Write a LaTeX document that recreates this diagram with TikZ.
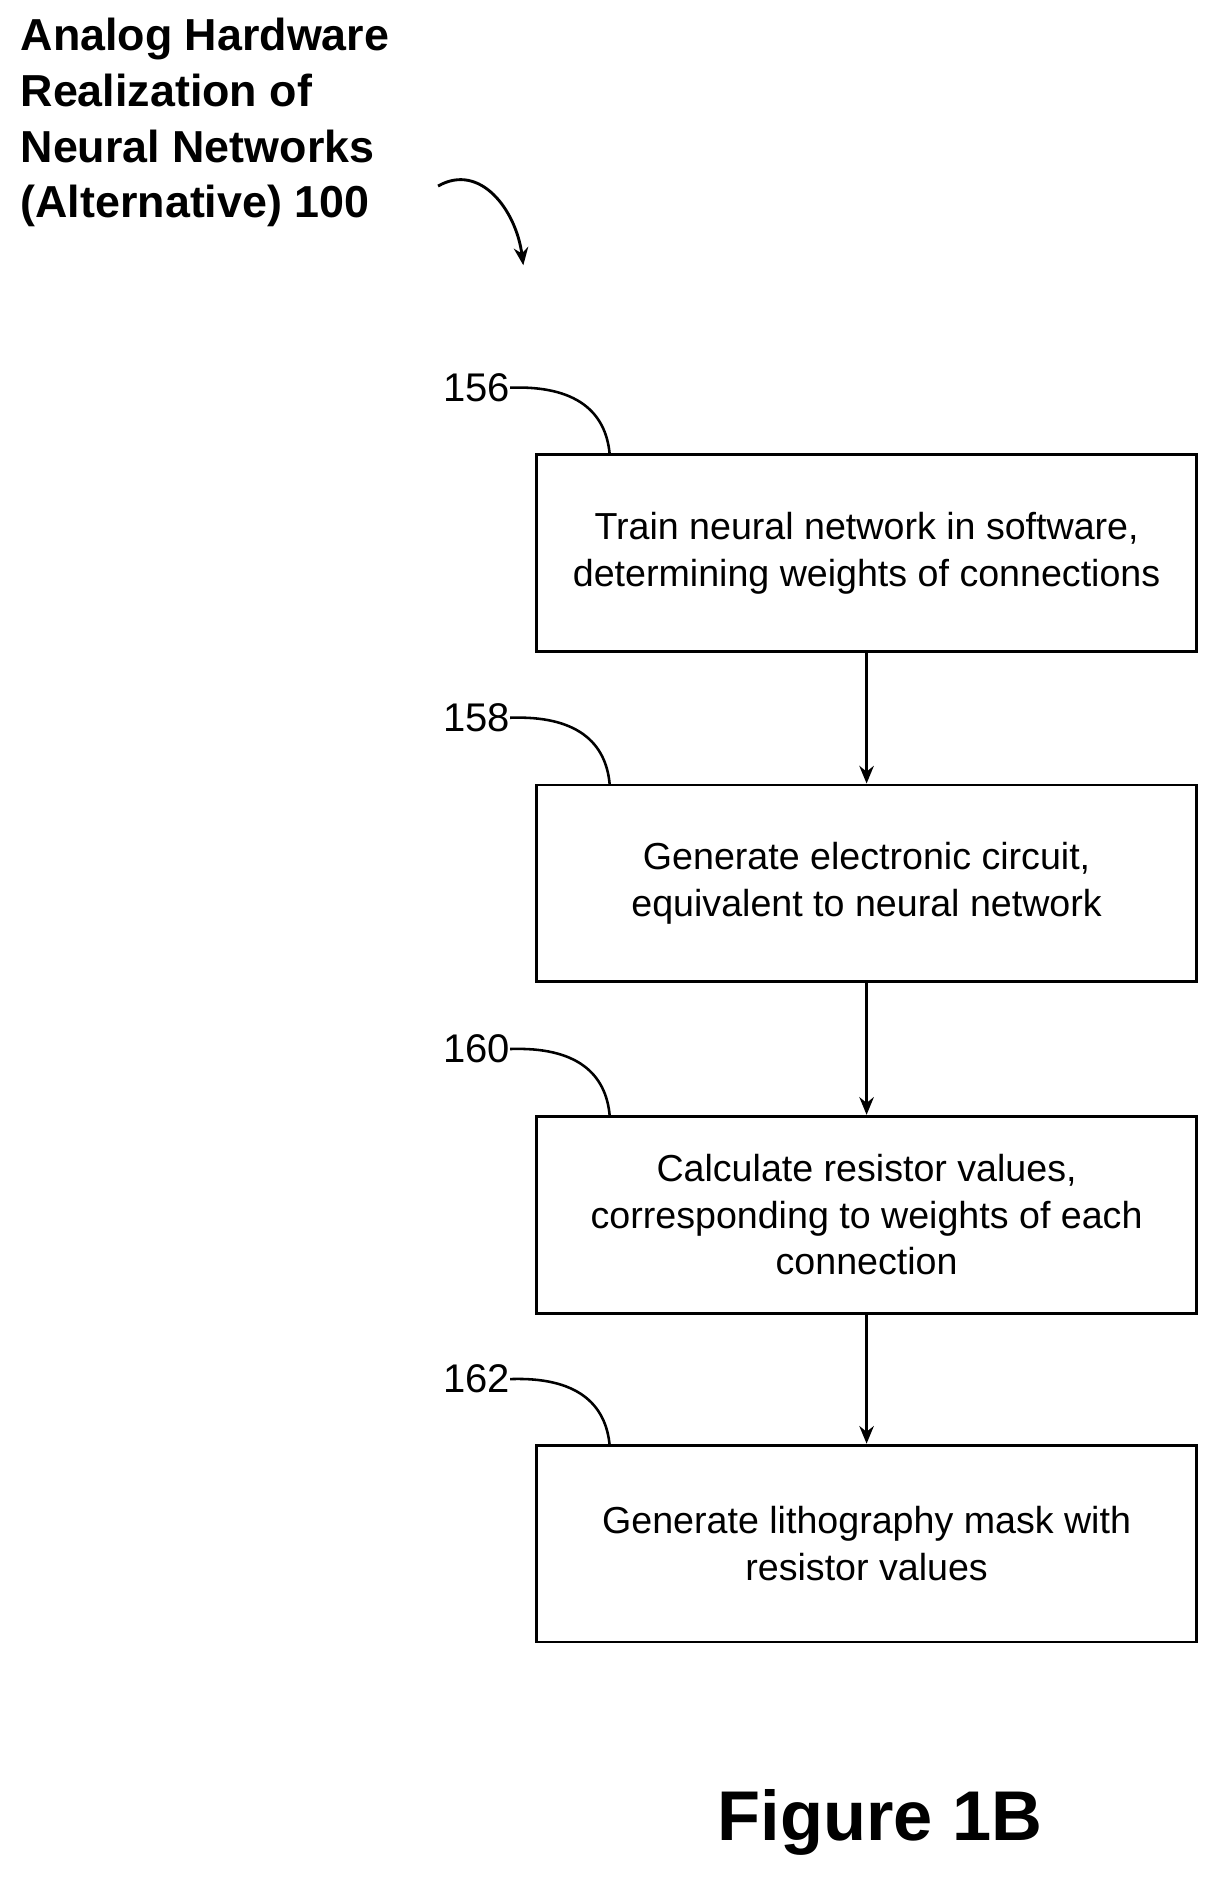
\documentclass[tikz,border=0pt]{standalone}
\usepackage{fontspec}
\usetikzlibrary{arrows.meta}
\setmainfont{Liberation Sans}
\begin{document}
\begin{tikzpicture}[x=0.75pt,y=-0.75pt,
  box/.style={draw,line width=1.8pt,minimum width=550*0.75pt,minimum height=164*0.75pt,align=center,font=\fontsize{23.5}{29}\selectfont,inner sep=0pt},
  lbl/.style={font=\fontsize{25}{30}\selectfont},
  arr/.style={line width=1.8pt,-{Stealth[length=11pt,width=9pt]}},
  lead/.style={line width=1.6pt}]
\useasboundingbox (0,0) rectangle (1024,1583);
\node[anchor=north west,align=left,font=\bfseries\fontsize{28}{34.8}\selectfont,inner sep=0pt] (title) at (17,15)
 {Analog Hardware\\Realization of\\Neural Networks\\(Alternative) 100};
\coordinate (ts) at (365,155);
\coordinate (te) at (436,221);
\draw[arr] (ts) .. controls (400,135) and (430,175) .. (te);
\node[box] (b1) at (722,461) {Train neural network in software,\\determining weights of connections};
\node[box] (b2) at (722,736) {Generate electronic circuit,\\equivalent to neural network};
\node[box] (b3) at (722,1012) {Calculate resistor values,\\corresponding to weights of each\\connection};
\node[box] (b4) at (722,1286) {Generate lithography mask with\\resistor values};
\draw[arr] (b1) -- (b2);
\draw[arr] (b2) -- (b3);
\draw[arr] (b3) -- (b4);
\foreach \n/\t/\y in {l1/156/323,l2/158/598,l3/160/874,l4/162/1149}{
  \node[lbl,anchor=east,inner sep=0pt] (\n) at (425,\y) {\t};
  \draw[lead] (\n.east) .. controls (480,\y-2) and (505,\y+20) .. (508,\y+56);
}
\node[font=\bfseries\fontsize{44}{50}\selectfont,inner sep=0pt] (fig) at (733,1518) {Figure 1B};
\end{tikzpicture}
\end{document}
